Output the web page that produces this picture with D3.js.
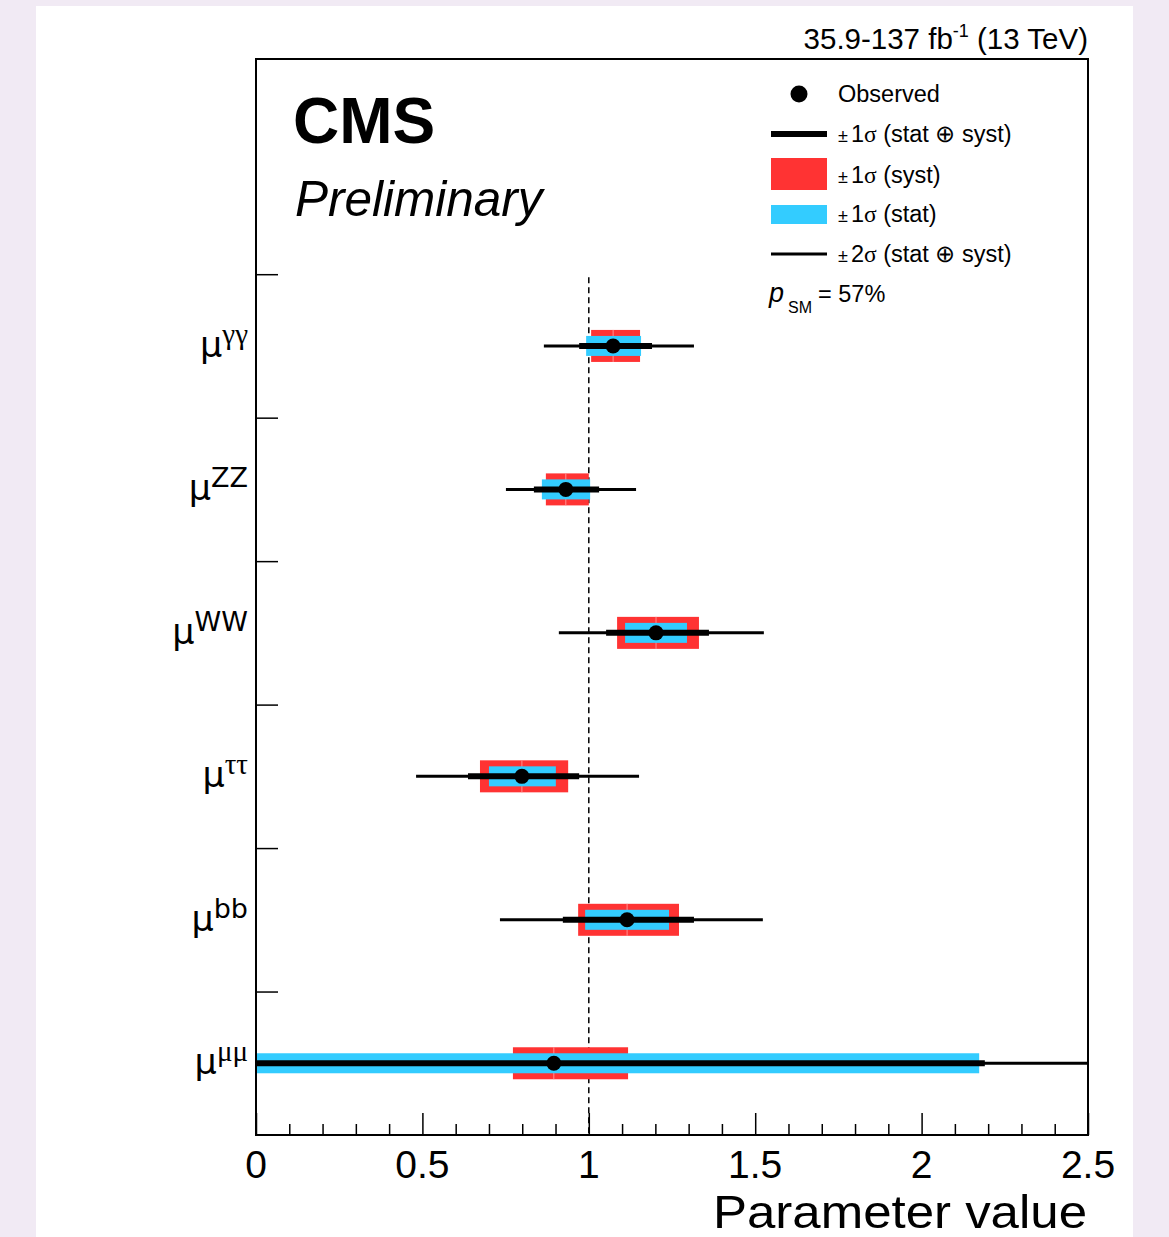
<!DOCTYPE html>
<html>
<head>
<meta charset="utf-8">
<script src="https://cdn.jsdelivr.net/npm/d3@7"></script>
<style>
  body { margin: 0; background: #f1eaf4; }
  #chart { position: absolute; left: 36px; top: 6px; width: 1097px; height: 1231px; background: #fff; }
  text { font-family: "Liberation Sans", Arial, sans-serif; fill: #000; }
</style>
</head>
<body>
<div id="chart"></div>
<script>
// parameters, top to bottom
var params = ["γγ", "ZZ", "WW", "ττ", "bb", "μμ"];
var greek = [true, false, false, true, false, true];
var observed = [1.073, 0.931, 1.202, 0.799, 1.115, 0.895];
// ±1σ (stat ⊕ syst)
var tot1Lo = [0.971, 0.835, 1.052, 0.637, 0.922, -0.60];
var tot1Hi = [1.190, 1.031, 1.361, 0.971, 1.316, 2.190];
// ±2σ (stat ⊕ syst)
var tot2Lo = [0.865, 0.751, 0.910, 0.481, 0.733, -1.20];
var tot2Hi = [1.316, 1.142, 1.526, 1.151, 1.523, 3.00];
// ±1σ (syst)
var systLo = [1.007, 0.871, 1.085, 0.673, 0.968, 0.772];
var systHi = [1.154, 1.000, 1.331, 0.938, 1.271, 1.118];
// ±1σ (stat)
var statLo = [0.992, 0.859, 1.109, 0.700, 0.989, -0.60];
var statHi = [1.157, 1.004, 1.295, 0.901, 1.241, 2.173];

var xMajor = [0, 0.5, 1, 1.5, 2, 2.5];
var xMinor = d3.range(0, 25).map(function(i) { return i / 10; }).filter(function(v) { return Math.round(v * 10) % 5 != 0; });
var yTicks = [1, 2, 3, 4, 5, 6];
var pSM = "57%";

var red = "#ff3333", blue = "#33ccff";

// svg sits in the white panel; offset so coordinates match page pixels
var svg = d3.select("#chart").append("svg").attr("width", 1097).attr("height", 1231)
  .append("g").attr("transform", "translate(-36,-6)");

var x = d3.scaleLinear().domain([0, 2.5]).range([256, 1088]);
var y = d3.scaleLinear().domain([0, 7.5]).range([1135, 59]);
function rowY(i) { return y(params.length - 0.5 - i); }

svg.append("clipPath").attr("id", "clip")
  .append("rect").attr("x", x(0)).attr("y", y(7.5)).attr("width", x(2.5) - x(0)).attr("height", y(0) - y(7.5));

// dashed SM line
svg.append("line")
  .attr("x1", x(1)).attr("x2", x(1)).attr("y1", y(6) + 3).attr("y2", y(0))
  .attr("stroke", "#000").attr("stroke-width", 1.5).attr("stroke-dasharray", "6,4");

var plot = svg.append("g").attr("clip-path", "url(#clip)");
var rows = plot.selectAll("g.row").data(params).enter().append("g").attr("class", "row");

// syst boxes drawn as two halves
rows.append("rect")
  .attr("x", function(d, i) { return x(systLo[i]); })
  .attr("width", function(d, i) { return x(observed[i]) - x(systLo[i]); })
  .attr("y", function(d, i) { return rowY(i) - 16; }).attr("height", 32)
  .attr("fill", red);
rows.append("rect")
  .attr("x", function(d, i) { return x(observed[i]); })
  .attr("width", function(d, i) { return x(systHi[i]) - x(observed[i]); })
  .attr("y", function(d, i) { return rowY(i) - 16; }).attr("height", 32)
  .attr("fill", red);
rows.append("line")
  .attr("x1", function(d, i) { return x(observed[i]); })
  .attr("x2", function(d, i) { return x(observed[i]); })
  .attr("y1", function(d, i) { return rowY(i) - 16; })
  .attr("y2", function(d, i) { return rowY(i) + 16; })
  .attr("stroke", "#ff8a8a").attr("stroke-width", 1);

rows.append("rect")
  .attr("x", function(d, i) { return x(statLo[i]); })
  .attr("width", function(d, i) { return x(statHi[i]) - x(statLo[i]); })
  .attr("y", function(d, i) { return rowY(i) - 10; }).attr("height", 20)
  .attr("fill", blue);

rows.append("line")
  .attr("x1", function(d, i) { return x(tot2Lo[i]); })
  .attr("x2", function(d, i) { return x(tot2Hi[i]); })
  .attr("y1", function(d, i) { return rowY(i); })
  .attr("y2", function(d, i) { return rowY(i); })
  .attr("stroke", "#000").attr("stroke-width", 3);
rows.append("line")
  .attr("x1", function(d, i) { return x(tot1Lo[i]); })
  .attr("x2", function(d, i) { return x(tot1Hi[i]); })
  .attr("y1", function(d, i) { return rowY(i); })
  .attr("y2", function(d, i) { return rowY(i); })
  .attr("stroke", "#000").attr("stroke-width", 6);
rows.append("circle")
  .attr("cx", function(d, i) { return x(observed[i]); })
  .attr("cy", function(d, i) { return rowY(i); })
  .attr("r", 7.5).attr("fill", "#000");

// axes
svg.append("g").attr("transform", "translate(0," + y(0) + ")")
  .call(d3.axisBottom(x).tickValues(xMajor).tickSize(-22).tickFormat(""));
svg.append("g").attr("transform", "translate(0," + y(0) + ")")
  .call(d3.axisBottom(x).tickValues(xMinor).tickSize(-11).tickFormat(""));
svg.append("g").attr("transform", "translate(" + x(0) + ",0)")
  .call(d3.axisLeft(y).tickValues(yTicks).tickSize(-22).tickFormat(""));
svg.selectAll(".domain").remove();
svg.selectAll(".tick line").attr("stroke", "#000").attr("stroke-width", 1.5);

xMajor.forEach(function(v) {
  svg.append("text").attr("x", x(v)).attr("y", 1178)
    .attr("text-anchor", "middle").style("font-size", "39px").text(d3.format("")(v));
});
svg.append("text").attr("x", 713).attr("y", 1228)
  .attr("textLength", 374).attr("lengthAdjust", "spacingAndGlyphs")
  .style("font-size", "46px").text("Parameter value");

// frame
svg.append("rect").attr("x", x(0)).attr("y", y(7.5)).attr("width", x(2.5) - x(0)).attr("height", y(0) - y(7.5))
  .attr("fill", "none").attr("stroke", "#000").attr("stroke-width", 2);

// y labels
params.forEach(function(p, i) {
  var t = svg.append("text").attr("x", 248).attr("y", rowY(i) + 11).attr("text-anchor", "end")
    .style("font-family", "'DejaVu Sans', sans-serif");
  t.append("tspan").style("font-size", "35px").text("μ");
  t.append("tspan").attr("dy", -13)
    .style("font-size", greek[i] ? "29px" : "27px")
    .style("font-family", greek[i] ? "'Liberation Serif', serif" : null)
    .text(p);
});

// header texts
svg.append("text").attr("x", 293).attr("y", 143).style("font-size", "64px").style("font-weight", "bold").text("CMS");
svg.append("text").attr("x", 295).attr("y", 216).style("font-size", "49.5px").style("font-style", "italic").text("Preliminary");
var lumi = svg.append("text").attr("x", 1088).attr("y", 49).attr("text-anchor", "end").style("font-size", "29.5px");
lumi.append("tspan").text("35.9-137 fb");
lumi.append("tspan").attr("dy", -12).style("font-size", "18px").text("-1");
lumi.append("tspan").attr("dy", 12).text(" (13 TeV)");

// legend
var lx = 771, lw = 56, tx = 838;
svg.append("circle").attr("cx", lx + lw / 2).attr("cy", 94).attr("r", 8.5).attr("fill", "#000");
svg.append("line").attr("x1", lx).attr("x2", lx + lw).attr("y1", 134).attr("y2", 134).attr("stroke", "#000").attr("stroke-width", 6);
svg.append("rect").attr("x", lx).attr("y", 158).attr("width", lw).attr("height", 32).attr("fill", red);
svg.append("rect").attr("x", lx).attr("y", 205).attr("width", lw).attr("height", 19).attr("fill", blue);
svg.append("line").attr("x1", lx).attr("x2", lx + lw).attr("y1", 254).attr("y2", 254).attr("stroke", "#000").attr("stroke-width", 3);

var legendTexts = [
  [94, null, "Observed"],
  [134, "1", " (stat ⊕ syst)"],
  [175, "1", " (syst)"],
  [214, "1", " (stat)"],
  [254, "2", " (stat ⊕ syst)"]
];
legendTexts.forEach(function(l) {
  var t = svg.append("text").attr("x", tx).attr("y", l[0] + 8).style("font-size", "23.5px");
  if (l[1] == null) { t.text(l[2]); return; }
  t.append("tspan").style("font-size", "18px").text("±");
  t.append("tspan").attr("dx", 3).text(l[1]);
  t.append("tspan").style("font-family", "'Liberation Serif', serif").text("σ");
  t.append("tspan").text(l[2]);
});
var ps = svg.append("text").attr("x", 769).attr("y", 302).style("font-size", "27px");
ps.append("tspan").style("font-style", "italic").text("p");
ps.append("tspan").attr("dy", 11).attr("dx", 4).style("font-size", "16px").text("SM");
ps.append("tspan").attr("dy", -11).attr("dx", 6).style("font-size", "23.5px").text("= " + pSM);
</script>
</body>
</html>
